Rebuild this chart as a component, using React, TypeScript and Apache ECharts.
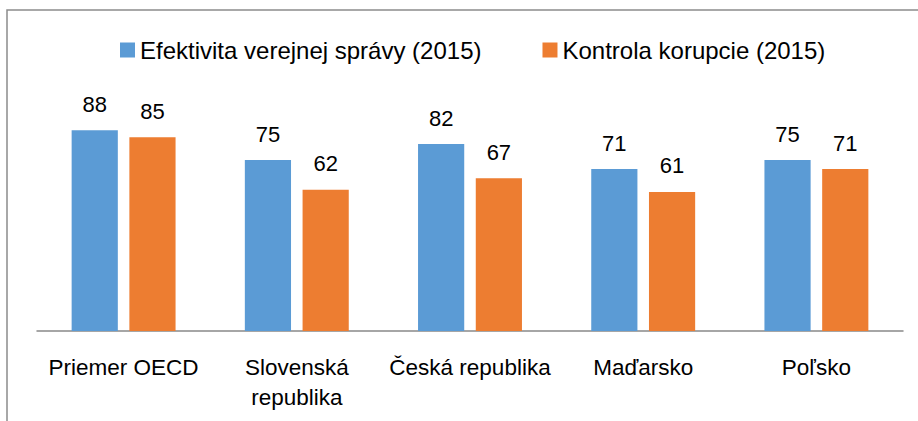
import React, { useEffect, useRef } from "react";
import * as echarts from "echarts";

const categories = ["Priemer OECD", "Slovenská\nrepublika", "Česká republika", "Maďarsko", "Poľsko"];
const seriesNames = ["Efektivita verejnej správy (2015)", "Kontrola korupcie (2015)"];
const efektivita = [88, 75, 82, 71, 75];
const korupcia = [85, 62, 67, 61, 71];

const FONT = "'Liberation Sans', Arial, sans-serif";

export default function App() {
  const ref = useRef<HTMLDivElement>(null);
  useEffect(() => {
    document.body.style.margin = "0";
    const chart = echarts.init(ref.current!, null, { renderer: "svg" });
    chart.setOption({
      animation: false,
      backgroundColor: "#ffffff",
      textStyle: { fontFamily: FONT },
      graphic: [
        {
          type: "rect",
          shape: { x: 7, y: 10, width: 1000, height: 1000 },
          style: { fill: "none", stroke: "#8c8c8c", lineWidth: 1.5 },
          silent: true,
        },
      ],
      legend: {
        left: 115,
        top: 33,
        itemWidth: 15,
        itemHeight: 15,
        itemGap: 61,
        icon: "rect",
        textStyle: { fontFamily: FONT, fontSize: 24, color: "#000" },
        data: seriesNames,
      },
      grid: { left: 37, right: 15, top: 103, bottom: 90, containLabel: false },
      xAxis: {
        type: "category",
        data: categories,
        axisLine: { lineStyle: { color: "#898989", width: 1.5 } },
        axisTick: { show: false },
        axisLabel: {
          fontFamily: FONT,
          fontSize: 22.5,
          color: "#000",
          margin: 21,
          lineHeight: 30,
          interval: 0,
        },
      },
      yAxis: {
        type: "value",
        min: 0,
        max: 100,
        show: false,
        splitLine: { show: false },
      },
      series: [
        {
          name: seriesNames[0],
          type: "bar",
          data: efektivita,
          itemStyle: { color: "#5b9bd5" },
          barGap: "25%",
          barCategoryGap: "40%",
          label: { show: true, position: "top", distance: 15, fontFamily: FONT, fontSize: 22, color: "#000" },
        },
        {
          name: seriesNames[1],
          type: "bar",
          data: korupcia,
          itemStyle: { color: "#ed7d31" },
          barGap: "25%",
          barCategoryGap: "40%",
          label: { show: true, position: "top", distance: 15, fontFamily: FONT, fontSize: 22, color: "#000" },
        },
      ],
    });
    return () => chart.dispose();
  }, []);
  return <div ref={ref} style={{ width: 918, height: 421 }} />;
}
